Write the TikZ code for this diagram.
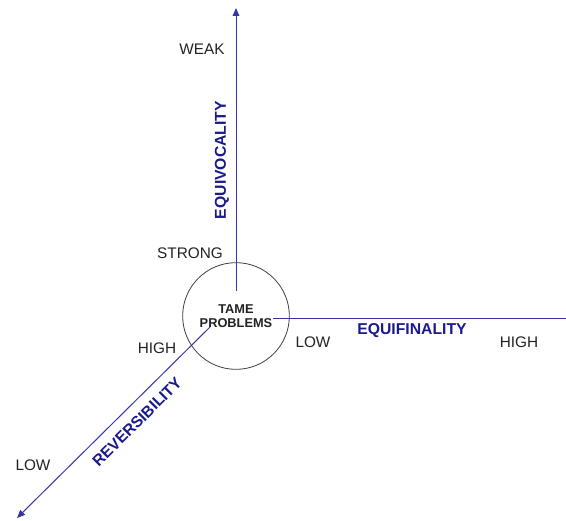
\documentclass[tikz,border=0pt]{standalone}
\usepackage{fontspec}
\setmainfont{Liberation Sans}
\usetikzlibrary{arrows.meta}
\definecolor{axis}{HTML}{3535A5}
\definecolor{axlab}{HTML}{1A1A8C}
\definecolor{txt}{HTML}{222222}
\begin{document}
\begin{tikzpicture}[x=0.75pt,y=-0.75pt,
  lab/.style={text=txt,font=\fontsize{11.5}{13}\selectfont,inner sep=0pt},
  axlabel/.style={text=axlab,font=\fontsize{11.8}{13}\selectfont\bfseries,inner sep=0pt},
  axisline/.style={draw=axis,line width=0.75pt},
  arr/.style={-{Triangle[length=6pt,width=5pt]}}]
\useasboundingbox (0,0) rectangle (566,520);
\node[draw=black!75,circle,minimum size=80pt,line width=0.6pt] (tame) at (236,316) {};
\node[align=center,text=txt,font=\fontsize{9.6}{11}\selectfont\bfseries,inner sep=0pt] (tt) at (236,316) {TAME\\PROBLEMS};
\coordinate (vs) at (236,291);
\coordinate (vt) at (236,8);
\coordinate (hs) at (273,318);
\coordinate (he) at (566,318);
\coordinate (ds) at (210,327);
\coordinate (de) at (17,518);
\draw[axisline,arr] (vs) -- (vt);
\draw[axisline] (hs) -- (he);
\draw[axisline,arr] (ds) -- (de);
\node[lab] (weak) at (202,49) {WEAK};
\node[lab] (strong) at (190,253) {STRONG};
\node[axlabel,rotate=90] (equiv) at (222,160) {EQUIVOCALITY};
\node[axlabel] (equif) at (412,331) {EQUIFINALITY};
\node[lab] (low1) at (313,342) {LOW};
\node[lab] (high1) at (519,342) {HIGH};
\node[lab] (high2) at (157,348) {HIGH};
\node[lab] (low2) at (33,465) {LOW};
\node[axlabel,rotate=45] (rev) at (137,422) {REVERSIBILITY};
\end{tikzpicture}
\end{document}
